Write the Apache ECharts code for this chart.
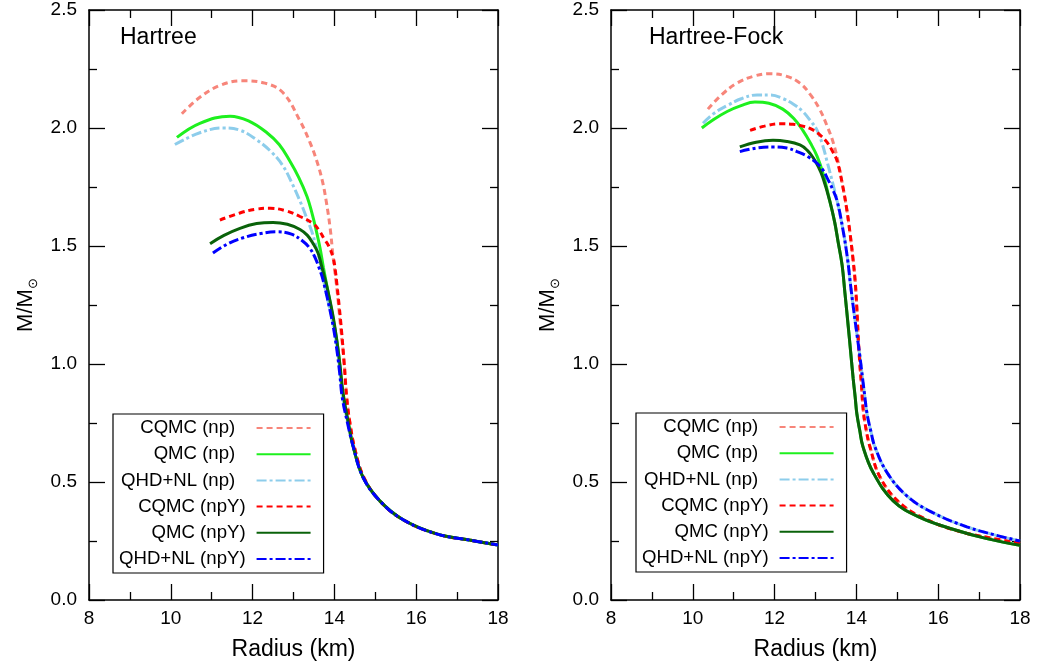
<!DOCTYPE html>
<html>
<head>
<meta charset="utf-8">
<script src="https://cdn.jsdelivr.net/npm/echarts@6/dist/echarts.min.js"></script>
<style>html,body{margin:0;padding:0;background:#fff}#c{width:1040px;height:664px}</style>
</head>
<body>
<div id="c"></div>
<script>
// ---- data: [Radius (km), M/Msun] ----
const seriesNames = ['CQMC (np)', 'QMC (np)', 'QHD+NL (np)', 'CQMC (npY)', 'QMC (npY)', 'QHD+NL (npY)'];
const panelTitles = ['Hartree', 'Hartree-Fock'];
const xTicks = [8, 10, 12, 14, 16, 18];
const yTicks = ['0.0', '0.5', '1.0', '1.5', '2.0', '2.5'];

// Hartree panel
const h_cqmcNp = [[10.27,2.06],[10.71,2.13],[11.2,2.18],[11.74,2.20],[12.3,2.19],[12.74,2.15],[13.16,2.03],[13.4,1.94],[13.57,1.86],[13.7,1.78],[13.8,1.69],[13.9,1.57],[13.97,1.45],[14.04,1.35],[14.09,1.27],[14.15,1.16],[14.21,1.06],[14.26,0.96],[14.3,0.86],[14.38,0.75],[14.5,0.64],[14.72,0.52],[15.11,0.42],[15.68,0.34],[16.5,0.28],[17.3,0.254],[18,0.233]];
const h_qmcNp = [[10.15,1.96],[10.71,2.02],[11.45,2.05],[11.9,2.03],[12.35,1.98],[12.65,1.93],[12.91,1.86],[13.13,1.79],[13.33,1.71],[13.45,1.64],[13.55,1.57],[13.65,1.49],[13.73,1.41],[13.84,1.31],[13.94,1.22],[14.02,1.14],[14.09,1.06],[14.15,0.96],[14.21,0.86],[14.33,0.76],[14.46,0.65],[14.7,0.52],[15.11,0.42],[15.68,0.34],[16.5,0.28],[17.3,0.254],[18,0.233]];
const h_qhdNp = [[10.1,1.93],[10.71,1.98],[11.28,2.0],[11.7,1.99],[12.1,1.95],[12.45,1.9],[12.74,1.84],[12.98,1.76],[13.16,1.69],[13.32,1.62],[13.45,1.56],[13.55,1.5],[13.64,1.44],[13.8,1.3],[13.93,1.2],[14.01,1.13],[14.08,1.05],[14.15,0.95],[14.2,0.86],[14.32,0.76],[14.46,0.65],[14.7,0.52],[15.11,0.42],[15.68,0.34],[16.5,0.28],[17.3,0.254],[18,0.233]];
const h_cqmcNpY = [[11.2,1.61],[11.69,1.64],[12.05,1.655],[12.43,1.66],[12.8,1.65],[13.16,1.625],[13.48,1.595],[13.63,1.565],[13.75,1.53],[13.86,1.5],[13.97,1.45],[14.02,1.4],[14.06,1.34],[14.12,1.24],[14.18,1.13],[14.24,1.0],[14.3,0.86],[14.38,0.75],[14.5,0.64],[14.72,0.52],[15.11,0.42],[15.68,0.34],[16.5,0.28],[17.3,0.254],[18,0.233]];
const h_qmcNpY = [[10.96,1.51],[11.3,1.545],[11.69,1.575],[12.1,1.595],[12.5,1.60],[12.85,1.592],[13.16,1.57],[13.34,1.545],[13.48,1.51],[13.6,1.47],[13.68,1.42],[13.8,1.34],[13.89,1.27],[13.98,1.19],[14.06,1.10],[14.14,0.99],[14.21,0.88],[14.33,0.76],[14.46,0.65],[14.7,0.52],[15.11,0.42],[15.68,0.34],[16.5,0.28],[17.3,0.254],[18,0.233]];
const h_qhdNpY = [[11.03,1.47],[11.4,1.51],[11.77,1.535],[12.2,1.553],[12.6,1.56],[12.95,1.55],[13.23,1.52],[13.4,1.49],[13.53,1.45],[13.62,1.41],[13.7,1.37],[13.8,1.3],[13.89,1.23],[13.98,1.15],[14.06,1.06],[14.13,0.96],[14.19,0.86],[14.32,0.75],[14.46,0.65],[14.7,0.52],[15.11,0.42],[15.68,0.34],[16.5,0.28],[17.3,0.254],[18,0.233]];

// Hartree-Fock panel
const hf_cqmcNp = [[10.37,2.08],[10.7,2.14],[11.08,2.19],[11.5,2.22],[11.89,2.23],[12.28,2.22],[12.62,2.19],[12.88,2.14],[13.1,2.08],[13.28,2.01],[13.43,1.94],[13.56,1.85],[13.67,1.75],[13.76,1.66],[13.84,1.56],[13.92,1.44],[13.97,1.35],[14.01,1.24],[14.04,1.13],[14.08,1.01],[14.12,0.92],[14.17,0.8],[14.24,0.72],[14.33,0.65],[14.58,0.52],[15.07,0.41],[15.73,0.34],[16.53,0.29],[17.3,0.262],[18,0.24]];
const hf_qmcNp = [[10.22,2.0],[10.5,2.035],[10.84,2.07],[11.18,2.095],[11.52,2.11],[11.86,2.105],[12.2,2.08],[12.47,2.04],[12.69,1.99],[12.88,1.935],[13.04,1.88],[13.18,1.81],[13.35,1.69],[13.47,1.60],[13.55,1.52],[13.65,1.42],[13.72,1.30],[13.8,1.16],[13.86,1.05],[13.92,0.94],[13.97,0.86],[14.01,0.79],[14.08,0.72],[14.16,0.65],[14.41,0.54],[14.9,0.42],[15.55,0.35],[16.36,0.30],[17.19,0.26],[18,0.232]];
const hf_qhdNp = [[10.25,2.02],[10.5,2.06],[10.84,2.095],[11.2,2.125],[11.57,2.14],[11.9,2.14],[12.2,2.125],[12.47,2.1],[12.69,2.07],[12.88,2.03],[13.04,1.99],[13.17,1.93],[13.28,1.86],[13.43,1.76],[13.53,1.69],[13.67,1.57],[13.78,1.45],[13.86,1.33],[13.94,1.22],[14.01,1.13],[14.08,1.04],[14.15,0.94],[14.2,0.87],[14.26,0.79],[14.36,0.71],[14.45,0.65],[14.75,0.54],[15.24,0.44],[15.87,0.37],[16.7,0.31],[17.4,0.275],[18,0.25]];
const hf_cqmcNpY = [[11.4,1.99],[11.75,2.008],[12.13,2.018],[12.45,2.016],[12.69,2.008],[12.9,1.995],[13.1,1.972],[13.28,1.94],[13.42,1.9],[13.53,1.86],[13.67,1.75],[13.76,1.66],[13.84,1.56],[13.92,1.44],[13.97,1.35],[14.01,1.24],[14.04,1.13],[14.08,1.01],[14.12,0.92],[14.17,0.8],[14.24,0.72],[14.33,0.65],[14.58,0.52],[15.07,0.41],[15.73,0.34],[16.53,0.29],[17.3,0.262],[18,0.24]];
const hf_qmcNpY = [[11.15,1.92],[11.55,1.94],[11.96,1.948],[12.3,1.943],[12.62,1.928],[12.8,1.905],[12.94,1.875],[13.07,1.835],[13.18,1.79],[13.35,1.69],[13.47,1.60],[13.55,1.52],[13.65,1.42],[13.72,1.30],[13.8,1.16],[13.86,1.05],[13.92,0.94],[13.97,0.86],[14.01,0.79],[14.08,0.72],[14.16,0.65],[14.41,0.54],[14.9,0.42],[15.55,0.35],[16.36,0.30],[17.19,0.26],[18,0.232]];
const hf_qhdNpY = [[11.15,1.90],[11.55,1.915],[11.96,1.92],[12.3,1.915],[12.55,1.90],[12.82,1.878],[13.04,1.85],[13.17,1.825],[13.28,1.79],[13.42,1.74],[13.53,1.69],[13.67,1.57],[13.78,1.45],[13.86,1.33],[13.94,1.22],[14.01,1.13],[14.08,1.04],[14.15,0.94],[14.2,0.87],[14.26,0.79],[14.36,0.71],[14.45,0.65],[14.75,0.54],[15.24,0.44],[15.87,0.37],[16.7,0.31],[17.4,0.275],[18,0.25]];

const panelData = [
  [h_cqmcNp, h_qmcNp, h_qhdNp, h_cqmcNpY, h_qmcNpY, h_qhdNpY],
  [hf_cqmcNp, hf_qmcNp, hf_qhdNp, hf_cqmcNpY, hf_qmcNpY, hf_qhdNpY]
];

// ---- styles ----
const FONT = '"Liberation Sans", Arial, Helvetica, sans-serif';
const lineStyles = [
  { color: '#F7857A', width: 3, type: [6, 4] },
  { color: '#1EF01E', width: 3, type: 'solid' },
  { color: '#8DCDEB', width: 3, type: [10, 3, 3, 3] },
  { color: '#FF0000', width: 3, type: [6, 4] },
  { color: '#0A620A', width: 3, type: 'solid' },
  { color: '#0000FF', width: 3, type: [10, 3, 3, 3] }
];
const gridLefts = [89, 611];

const grids = [], xAxes = [], yAxes = [], series = [], titles = [], legends = [];
const axisLine = { show: true, onZero: false, lineStyle: { color: '#000', width: 1.5 } };
const tick = { show: true, inside: true, length: 16, lineStyle: { color: '#000', width: 1.3 } };
const minor = { show: true, splitNumber: 2, length: 8, lineStyle: { color: '#000', width: 1.3 } };

for (let p = 0; p < 2; p++) {
  grids.push({ left: gridLefts[p], top: 10, width: 409, height: 590, outerBoundsMode: 'none', containLabel: false });
  const xBase = { type: 'value', gridIndex: p, min: xTicks[0], max: xTicks[xTicks.length - 1], interval: 2,
    axisLine, axisTick: tick, minorTick: minor, splitLine: { show: false }, minorSplitLine: { show: false } };
  xAxes.push(Object.assign({}, xBase, {
    position: 'bottom',
    axisLabel: { show: true, margin: 9, color: '#000', fontSize: 19, fontFamily: FONT, showMinLabel: true, showMaxLabel: true },
    name: 'Radius (km)', nameLocation: 'middle', nameGap: 38,
    nameTextStyle: { color: '#000', fontSize: 23, fontFamily: FONT }
  }));
  xAxes.push(Object.assign({}, xBase, { position: 'top', axisLabel: { show: false } }));
  const yBase = { type: 'value', gridIndex: p, min: 0, max: 2.5, interval: 0.5,
    axisLine, axisTick: tick, minorTick: minor, splitLine: { show: false }, minorSplitLine: { show: false } };
  yAxes.push(Object.assign({}, yBase, {
    position: 'left',
    axisLabel: { show: true, margin: 12, color: '#000', fontSize: 19, fontFamily: FONT,
      formatter: v => yTicks[Math.round(v / 0.5)], showMinLabel: true, showMaxLabel: true },
    name: '{a|M/M}{s|⊙}', nameLocation: 'middle', nameGap: 52, nameRotate: 90,
    nameTextStyle: { color: '#000', fontFamily: FONT,
      rich: { a: { fontSize: 22, lineHeight: 22, color: '#000', fontFamily: FONT },
              s: { fontSize: 13, lineHeight: 13, verticalAlign: 'top', padding: [12, 0, 0, 0], color: '#000', fontFamily: FONT } } }
  }));
  yAxes.push(Object.assign({}, yBase, { position: 'right', axisLabel: { show: false } }));

  for (let i = 0; i < 6; i++) {
    series.push({
      type: 'line', name: seriesNames[i], xAxisIndex: p * 2, yAxisIndex: p * 2,
      data: panelData[p][i], showSymbol: false, symbol: 'none', smooth: 0.4,
      lineStyle: lineStyles[i], itemStyle: { color: lineStyles[i].color },
      emphasis: { disabled: true }, animation: false, z: 2 + i
    });
  }
  titles.push({ text: panelTitles[p], left: p === 0 ? 120 : 649, top: 26, padding: 0,
    textStyle: { color: '#000', fontSize: 23, fontWeight: 'normal', fontFamily: FONT } });
  legends.push({
    data: seriesNames, orient: 'vertical', align: 'right',
    left: p === 0 ? 113 : 636, top: p === 0 ? 414 : 413,
    padding: [4, 12, 4, 6], itemGap: 6.2, itemWidth: 54, itemHeight: 14,
    borderColor: '#000', borderWidth: 1.2, backgroundColor: '#fff',
    selectedMode: false,
    itemStyle: { opacity: 0, borderWidth: 0 },
    formatter: n => (n.indexOf('npY') >= 0 ? n : n + '  '),
    textStyle: { color: '#000', fontSize: 18.6, fontFamily: FONT, lineHeight: 20, padding: [0, 6, 0, 0] }
  });
}

const chart = echarts.init(document.getElementById('c'), null, { renderer: 'canvas' });
chart.setOption({
  backgroundColor: '#fff', animation: false,
  title: titles, legend: legends, grid: grids, xAxis: xAxes, yAxis: yAxes, series: series
});
</script>
</body>
</html>
